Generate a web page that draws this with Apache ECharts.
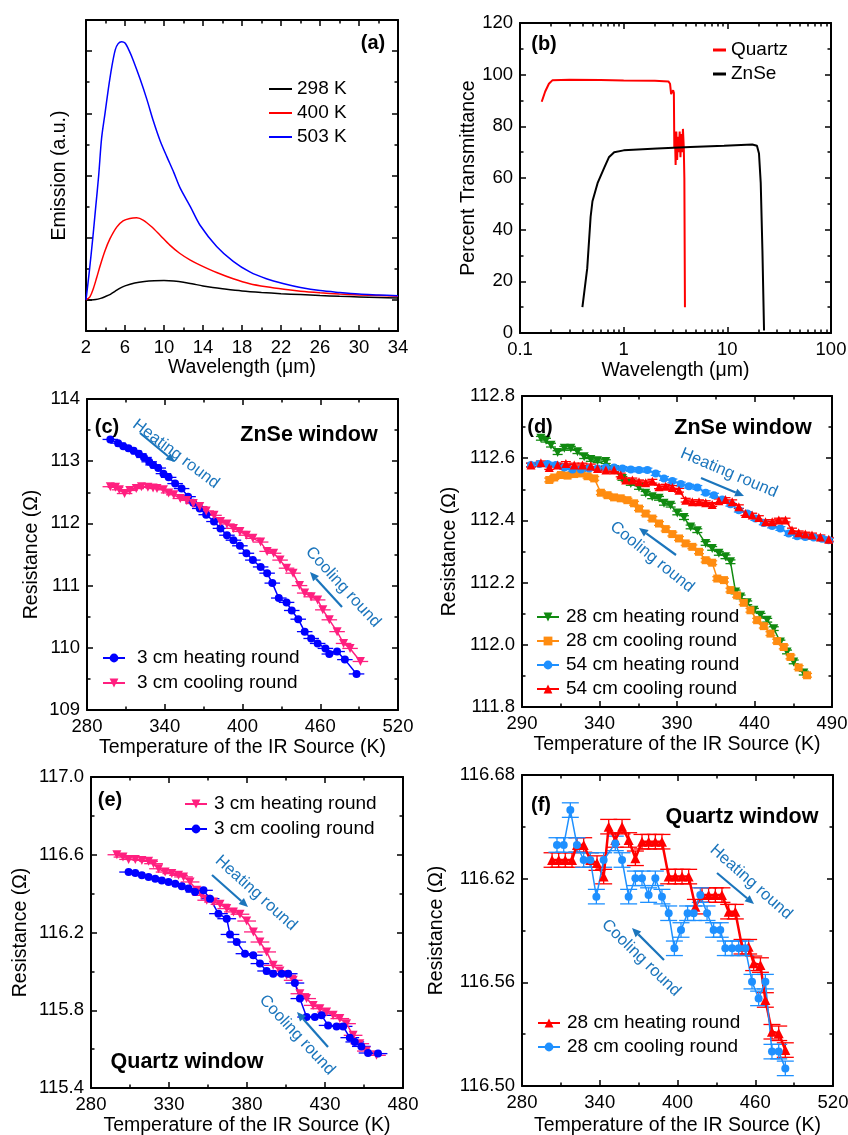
<!DOCTYPE html>
<html><head><meta charset="utf-8">
<script src="https://cdn.jsdelivr.net/npm/echarts@6/dist/echarts.min.js"></script>
<style>html,body{margin:0;padding:0;background:#fff}#c{width:848px;height:1135px}</style>
</head><body><div id="c"></div>
<script>
// ---------- (a) emission spectra [wavelength um, a.u.] ----------
const emission298 = [[2,0],[2.5,0],[3,0.005],[3.5,0.025],[4,0.055],[4.5,0.09],[5,0.14],[5.5,0.19],[6,0.225],[7,0.27],[8,0.295],[9,0.307],[10,0.31],[11,0.303],[12,0.285],[13,0.255],[14,0.225],[15,0.2],[16,0.18],[18,0.145],[20,0.12],[22,0.1],[24,0.085],[26,0.07],[28,0.058],[30,0.048],[32,0.04],[34,0.032]];
const emission400 = [[2,0],[2.4,0.05],[2.75,0.18],[3.1,0.36],[3.45,0.55],[3.95,0.79],[4.45,0.98],[5.15,1.17],[5.8,1.27],[6.5,1.31],[7.2,1.32],[7.9,1.28],[8.7,1.18],[9.6,1.04],[10.6,0.88],[11.6,0.75],[12.7,0.64],[13.7,0.56],[15.4,0.44],[17.1,0.34],[18.8,0.26],[20.5,0.21],[22.3,0.17],[24,0.14],[26,0.115],[28,0.095],[30,0.08],[32,0.07],[34,0.06]];
const emission503 = [[2,0],[2.35,0.47],[2.7,1.0],[3.0,1.5],[3.3,2.0],[3.6,2.6],[3.95,3.0],[4.3,3.4],[4.65,3.75],[5.0,4.02],[5.3,4.12],[5.65,4.15],[6.0,4.13],[6.45,4.0],[6.85,3.85],[7.55,3.55],[8.25,3.22],[8.9,2.88],[9.6,2.56],[10.3,2.3],[11,2.05],[11.65,1.8],[12.7,1.5],[13.7,1.2],[15.4,0.86],[17.1,0.62],[18.8,0.45],[20.5,0.34],[22.3,0.26],[24,0.2],[26,0.15],[28,0.12],[30,0.095],[32,0.08],[34,0.065]];
const aYTicks = [0,1,2,3,4];
const aYMinor = [0.5,1.5,2.5,3.5];
// ---------- (b) transmittance [wavelength um, %] ----------
const quartzT = [[0.162,89.5],[0.175,93.5],[0.19,96.5],[0.205,97.8],[0.3,98],[0.6,97.9],[1.0,97.7],[2.0,97.6],[2.7,97.4],[2.8,96.5],[2.87,92.5],[2.95,92],[3.0,94],[3.05,93],[3.08,72],[3.12,78],[3.17,65],[3.22,78],[3.28,67],[3.33,76],[3.4,70],[3.47,78],[3.53,68],[3.6,77],[3.67,70],[3.73,79],[3.8,72],[3.85,60],[3.9,10]];
const znseT = [[0.4,10],[0.445,25],[0.48,45],[0.5,51],[0.56,58],[0.65,64],[0.72,68],[0.81,70],[1.0,70.7],[2.1,71.4],[4.4,72],[9.3,72.5],[17.4,73],[19.3,72.5],[20.2,69.5],[21,58],[21.8,32],[22.6,1]];
const bLogMinor = [0.2,0.3,0.4,0.5,0.6,0.7,0.8,0.9,2,3,4,5,6,7,8,9,20,30,40,50,60,70,80,90];
// ---------- (c) ZnSe window, 3 cm [K, ohm] ----------
const cHeat3 = [[298,113.35],[304,113.29],[308,113.24],[312,113.21],[316,113.17],[320,113.12],[324,113.06],[328,112.99],[331,112.94],[335,112.89],[339,112.8],[343,112.74],[348,112.64],[353,112.56],[358,112.43],[362,112.33],[367,112.24],[372,112.14],[378,112.03],[383,111.92],[388,111.81],[393,111.73],[398,111.64],[403,111.52],[408,111.41],[414,111.3],[419,111.2],[423,111.04],[428,110.8],[434,110.73],[438,110.6],[443,110.46],[448,110.26],[453,110.15],[458,110.07],[464,109.99],[467,109.9],[473,109.94],[479,109.81],[488,109.58]];
const cCool3 = [[298,112.59],[302,112.58],[305,112.54],[309,112.48],[313,112.53],[318,112.56],[322,112.59],[327,112.58],[331,112.57],[334,112.56],[339,112.54],[343,112.49],[347,112.46],[352,112.4],[357,112.37],[362,112.32],[367,112.27],[372,112.2],[378,112.13],[383,112.03],[388,111.99],[393,111.92],[398,111.87],[403,111.81],[408,111.76],[414,111.7],[419,111.55],[424,111.52],[429,111.41],[434,111.28],[439,111.2],[444,111.0],[448,110.88],[453,110.82],[458,110.77],[462,110.61],[467,110.45],[473,110.26],[478,110.07],[483,109.99],[491,109.78]];
// ---------- (d) ZnSe window, 28/54 cm ----------
const dHeat28 = [[302.2,112.664],[305.5,112.658],[308.7,112.642],[313,112.618],[317.3,112.632],[321.5,112.632],[325.8,112.621],[330.1,112.605],[334.4,112.596],[338.7,112.592],[344,112.589],[349.4,112.562],[354.8,112.535],[360.2,112.519],[365.5,112.506],[369.8,112.487],[374,112.476],[378.4,112.471],[381.6,112.455],[385.9,112.449],[390.2,112.424],[394.5,112.409],[398.8,112.379],[403.1,112.367],[408.5,112.326],[412.7,112.31],[417,112.294],[421.3,112.283],[424.5,112.267],[427.8,112.17],[431,112.154],[435.3,112.135],[439.6,112.111],[443.9,112.095],[448.2,112.079],[452.4,112.052],[456.7,112.009],[461,111.977],[465.3,111.945],[471.8,111.909]];
const dCool28 = [[307.6,112.53],[310.8,112.538],[315.1,112.546],[319.4,112.544],[323.7,112.549],[328,112.551],[332.3,112.542],[336.6,112.535],[340.9,112.489],[345.2,112.481],[349.4,112.474],[353.7,112.471],[358,112.465],[362.3,112.455],[365.5,112.438],[369.8,112.422],[374.1,112.406],[378.4,112.39],[382.7,112.372],[387,112.356],[391.3,112.342],[395.6,112.326],[399.9,112.315],[404.2,112.299],[408.5,112.272],[412.7,112.264],[416,112.213],[420.3,112.208],[424.5,112.176],[428.8,112.159],[433.1,112.135],[437.4,112.111],[441.7,112.079],[446,112.06],[450.3,112.036],[454.6,112.012],[458.9,111.993],[463.2,111.961],[468.5,111.927],[473.9,111.902]];
const dHeat54 = [[295.8,112.578],[301.2,112.581],[306.5,112.581],[311.9,112.578],[317.3,112.57],[322.6,112.564],[328,112.564],[333.3,112.567],[338.7,112.567],[344.1,112.57],[349.4,112.57],[354.8,112.567],[360.2,112.564],[365.5,112.562],[370.9,112.562],[376.3,112.551],[381.6,112.535],[387,112.527],[392.4,112.517],[397.7,112.51],[403.1,112.506],[408.5,112.489],[413.8,112.481],[419.2,112.467],[424.5,112.452],[429.9,112.433],[435.3,112.422],[440.6,112.406],[446,112.392],[451.4,112.382],[456.7,112.374],[462.1,112.358],[467.5,112.349],[472.8,112.347],[478.2,112.345],[483.6,112.341],[487.9,112.336]];
const dCool54 = [[295.8,112.578],[302.2,112.585],[307.6,112.57],[313,112.578],[318.3,112.583],[323.7,112.578],[329,112.578],[334.4,112.575],[338.7,112.567],[344.1,112.562],[349.4,112.562],[353.7,112.546],[356.9,112.53],[361.2,112.53],[365.5,112.524],[369.8,112.521],[374.1,112.526],[378.4,112.508],[382.7,112.51],[387,112.506],[391.3,112.497],[395.6,112.465],[399.9,112.46],[404.2,112.46],[408.5,112.457],[412.7,112.451],[417,112.463],[421.3,112.467],[425.6,112.46],[429.9,112.444],[434.2,112.422],[438.5,112.417],[442.8,112.409],[447.1,112.396],[451.4,112.396],[455.7,112.401],[460,112.401],[464.2,112.369],[468.5,112.36],[472.8,112.356],[477.1,112.353],[482.5,112.347],[487.9,112.339]];
// ---------- (e) Quartz window, 3 cm ----------
const eHeat3 = [[296.6,116.6],[300.5,116.588],[304.1,116.576],[308.4,116.576],[312.6,116.571],[316.9,116.566],[320.1,116.554],[323.3,116.528],[327.5,116.511],[331.8,116.503],[336.1,116.494],[339.3,116.486],[343.5,116.46],[347.8,116.417],[351,116.391],[354.2,116.366],[358.5,116.357],[362.7,116.345],[367,116.323],[371.3,116.306],[375.5,116.294],[379.8,116.259],[384.1,116.203],[388.3,116.151],[392.6,116.1],[396.8,116.031],[401.1,116.002],[405.4,115.98],[409.6,115.954],[413.9,115.885],[418.2,115.86],[422.4,115.825],[426.7,115.808],[431,115.791],[435.2,115.774],[439.5,115.757],[443.8,115.731],[448,115.671],[452.3,115.628],[456.5,115.59],[463,115.568]];
const eCool3 = [[304.1,116.511],[308.4,116.506],[312.6,116.494],[316.9,116.486],[321.2,116.477],[325.4,116.468],[329.7,116.46],[334,116.451],[338.2,116.438],[342.5,116.426],[346.7,116.408],[352.1,116.417],[356.3,116.374],[361.7,116.297],[367,116.271],[369.1,116.19],[373.4,116.151],[378.7,116.091],[384,116.083],[388.3,116.04],[392.6,116.002],[396.8,115.988],[402.2,115.988],[406.4,115.988],[410.7,115.94],[413.9,115.86],[418.2,115.765],[423.5,115.765],[427.8,115.774],[432,115.722],[437.4,115.717],[441.6,115.717],[445.9,115.659],[449.1,115.637],[453.3,115.614],[457.6,115.58],[464,115.577]];
// ---------- (f) Quartz window, 28 cm ----------
const fHeat28 = [[303.2,116.6308],[308.3,116.6308],[313.4,116.6308],[318.6,116.6308],[322.4,116.6395],[327.6,116.6395],[332.7,116.6308],[337.9,116.629],[343,116.6212],[346.9,116.6501],[352,116.6424],[357.2,116.6501],[362.3,116.6424],[367.5,116.6318],[372.6,116.6414],[377.7,116.6414],[382.9,116.6414],[388,116.6414],[393.2,116.6212],[398.3,116.6212],[403.5,116.6212],[408.6,116.6212],[413.8,116.6038],[418.9,116.6105],[424,116.6105],[429.2,116.6105],[434.3,116.6105],[439.5,116.6009],[444.6,116.6009],[449.8,116.5806],[454.9,116.5806],[458.8,116.571],[464,116.57],[467.8,116.5498],[472.9,116.5314],[478.1,116.5305],[483.2,116.5208]];
const fCool28 = [[307,116.6395],[312.2,116.6395],[317.3,116.6597],[322.4,116.6395],[327.6,116.6308],[332.7,116.6308],[337.4,116.6096],[343,116.6308],[352,116.6404],[357.2,116.6308],[362.3,116.6096],[367.5,116.6202],[372.6,116.6202],[377.7,116.6105],[382.9,116.6202],[388,116.6096],[393.2,116.6],[397.6,116.5797],[402.7,116.5903],[407.8,116.6],[412.5,116.6],[417.6,116.6105],[422.8,116.6],[427.9,116.5903],[433,116.5903],[436.9,116.5797],[442.1,116.5797],[447.2,116.5797],[452.3,116.5797],[457.5,116.5604],[462.6,116.5507],[467.8,116.5604],[472.9,116.5199],[478.1,116.5199],[483.2,116.5102]];

const FONT = 'Liberation Sans';
const ANN = '#1B75BC';
const C = {blue:'#0000FF', pink:'#FF1F7F', green:'#108A10', orange:'#FF8C10', lblue:'#1E90FF', red:'#FF0000', black:'#000000'};

const grids = [
  {left:86, top:20, width:312, height:311},
  {left:520, top:23, width:311, height:310},
  {left:87, top:399, width:311, height:311},
  {left:522, top:396, width:310, height:311},
  {left:91, top:777, width:312, height:311},
  {left:522, top:775, width:311, height:311}
].map(g => Object.assign({outerBoundsMode:'none', containLabel:false}, g));

const xAxes = [], yAxes = [];
function mkAxis(kind, gi, cfg, main) {
  const ax = {
    gridIndex: gi, type: cfg.type || 'value', min: cfg.min, max: cfg.max,
    position: kind === 'x' ? (main ? 'bottom' : 'top') : (main ? 'left' : 'right'),
    splitLine: {show:false},
    axisLine: {show: cfg.noLine ? false : true, onZero:false, lineStyle:{color:'#000', width:2}},
    axisTick: {show:true, inside:true, length: cfg.tickLen || 6, lineStyle:{color:'#000', width:1.5}},
    minorTick: {show: cfg.minor !== false, splitNumber:2, length:3.5, lineStyle:{color:'#000', width:1.5}},
    axisLabel: {show: main && !cfg.noLabel, color:'#000', fontFamily:FONT, fontSize:18.5, margin:7},
    axisPointer: {show:false}
  };
  if (cfg.logBase) ax.logBase = cfg.logBase;
  if (cfg.interval) ax.interval = cfg.interval;
  if (cfg.fmt) ax.axisLabel.formatter = cfg.fmt;
  if (cfg.tickValues) ax.axisTick.customValues = cfg.tickValues;
  if (main && cfg.name) {
    ax.name = cfg.name; ax.nameLocation = 'middle'; ax.nameGap = cfg.nameGap;
    ax.nameTextStyle = {fontFamily:FONT, fontSize:19.5, color:'#000'};
  }
  (kind === 'x' ? xAxes : yAxes).push(ax);
  return (kind === 'x' ? xAxes : yAxes).length - 1;
}
function pair(kind, gi, cfg) {
  const i = mkAxis(kind, gi, cfg, true);
  mkAxis(kind, gi, cfg, false);
  return i;
}
const tempName = 'Temperature of the IR Source (K)';
const resName = 'Resistance (\u03A9)';
const f1 = v => (+v).toFixed(1), f2 = v => (+v).toFixed(2);

// (a)
const ax = pair('x', 0, {min:2, max:34, interval:4, name:'Wavelength (\u03BCm)', nameGap:27});
const ay = pair('y', 0, {min:-0.5, max:4.5, noLabel:true, minor:false, tickValues:aYTicks, name:'Emission (a.u.)', nameGap:16});
pair('y', 0, {min:-0.5, max:4.5, noLabel:true, minor:false, noLine:true, tickLen:3.5, tickValues:aYMinor});
// (b)
const bx = pair('x', 1, {type:'log', logBase:10, min:0.1, max:100, minor:false, fmt: v => (v < 1 ? String(+(+v).toFixed(1)) : String(Math.round(v))), name:'Wavelength (\u03BCm)', nameGap:28});
// minor log ticks on a plain value axis laid over log10 space
pair('x', 1, {min:-1, max:2, minor:false, noLabel:true, noLine:true, tickLen:3.5, tickValues:bLogMinor.map(v => Math.log10(v))});
const by = pair('y', 1, {min:0, max:120, interval:20, name:'Percent Transmittance', nameGap:41});
// (c)
const cx = pair('x', 2, {min:280, max:520, interval:60, name:tempName, nameGap:28});
const cy = pair('y', 2, {min:109, max:114, interval:1, name:resName, nameGap:45});
// (d)
const dx = pair('x', 3, {min:290, max:490, interval:50, name:tempName, nameGap:28});
const dy = pair('y', 3, {min:111.8, max:112.8, interval:0.2, fmt:f1, name:resName, nameGap:62});
// (e)
const ex = pair('x', 4, {min:280, max:480, interval:50, name:tempName, nameGap:28});
const ey = pair('y', 4, {min:115.4, max:117.0, interval:0.4, fmt:f1, name:resName, nameGap:60});
// (f)
const fx = pair('x', 5, {min:280, max:520, interval:60, name:tempName, nameGap:30});
const fy = pair('y', 5, {min:116.50, max:116.68, interval:0.06, fmt:f2, name:resName, nameGap:75});

function lineS(name, xi, yi, data, color, o) {
  o = o || {};
  return {type:'line', name:name, xAxisIndex:xi, yAxisIndex:yi, data:data, z:3,
    symbol: o.symbol || 'none', symbolSize: o.size || 8, symbolRotate: o.rot || 0, showSymbol: !!o.symbol,
    smooth: o.smooth || false, lineStyle:{color:color, width:o.lw || 1.5}, itemStyle:{color:color},
    animation:false, emphasis:{disabled:true}};
}
function errS(xi, yi, data, color, o) {
  return {type:'custom', xAxisIndex:xi, yAxisIndex:yi, data:data, silent:true, z:2, animation:false,
    encode:{x:0, y:1},
    renderItem: function(params, api) {
      const x = api.value(0), y = api.value(1), ch = [];
      const st = () => ({stroke:color, lineWidth:o.lw || 1.3});
      if (o.ex) {
        const a = api.coord([x - o.ex, y]), b = api.coord([x + o.ex, y]);
        ch.push({type:'line', shape:{x1:a[0], y1:a[1], x2:b[0], y2:b[1]}, style:st()});
      }
      if (o.ey) {
        const t = api.coord([x, y + o.ey]), b = api.coord([x, y - o.ey]), c = o.cap || 4;
        ch.push({type:'line', shape:{x1:t[0], y1:t[1], x2:b[0], y2:b[1]}, style:st()});
        ch.push({type:'line', shape:{x1:t[0]-c, y1:t[1], x2:t[0]+c, y2:t[1]}, style:st()});
        ch.push({type:'line', shape:{x1:b[0]-c, y1:b[1], x2:b[0]+c, y2:b[1]}, style:st()});
      }
      return {type:'group', children:ch};
    }};
}

const series = [
  lineS('a|298 K', ax, ay, emission298, C.black, {smooth:0.3}),
  lineS('a|400 K', ax, ay, emission400, C.red, {smooth:0.3}),
  lineS('a|503 K', ax, ay, emission503, C.blue, {smooth:0.3}),
  lineS('b|Quartz', bx, by, quartzT, C.red, {lw:2}),
  lineS('b|ZnSe', bx, by, znseT, C.black, {lw:2}),
  errS(cx, cy, cHeat3, C.blue, {ex:6}),
  errS(cx, cy, cCool3, C.pink, {ex:6}),
  lineS('c|3 cm heating round', cx, cy, cHeat3, C.blue, {symbol:'circle', size:8}),
  lineS('c|3 cm cooling round', cx, cy, cCool3, C.pink, {symbol:'triangle', rot:180, size:9}),
  errS(dx, dy, dHeat28, C.green, {ey:0.006, cap:5}),
  errS(dx, dy, dCool28, C.orange, {ey:0.006, cap:5}),
  errS(dx, dy, dHeat54, C.lblue, {ey:0.006, cap:5}),
  errS(dx, dy, dCool54, C.red, {ey:0.006, cap:5}),
  lineS('d|28 cm heating round', dx, dy, dHeat28, C.green, {symbol:'triangle', rot:180, size:9}),
  lineS('d|28 cm cooling round', dx, dy, dCool28, C.orange, {symbol:'rect', size:8}),
  lineS('d|54 cm heating round', dx, dy, dHeat54, C.lblue, {symbol:'circle', size:8}),
  lineS('d|54 cm cooling round', dx, dy, dCool54, C.red, {symbol:'triangle', size:9}),
  errS(ex, ey, eHeat3, C.pink, {ex:6}),
  errS(ex, ey, eCool3, C.blue, {ex:6}),
  lineS('e|3 cm heating round', ex, ey, eHeat3, C.pink, {symbol:'triangle', rot:180, size:9}),
  lineS('e|3 cm cooling round', ex, ey, eCool3, C.blue, {symbol:'circle', size:8}),
  errS(fx, fy, fHeat28, C.red, {ey:0.0042, cap:8.5}),
  errS(fx, fy, fCool28, C.lblue, {ey:0.0042, cap:8.5}),
  lineS('f|28 cm heating round', fx, fy, fHeat28, C.red, {symbol:'triangle', size:10, lw:2.5}),
  lineS('f|28 cm cooling round', fx, fy, fCool28, C.lblue, {symbol:'circle', size:8})
];

const strip = n => n.split('|')[1];
function leg(names, left, top, o) {
  o = o || {};
  const L = {data:names, left:left, top:top, orient:'vertical', itemWidth:o.w || 22, itemHeight:o.h || 11,
    itemGap:o.gap || 4, selectedMode:false, formatter:strip, padding:0,
    textStyle:{fontFamily:FONT, fontSize:19, color:'#000', lineHeight:20, padding:o.tp || [0,0,0,0]}};
  if (o.icon) L.icon = o.icon;
  return L;
}
const legends = [
  leg(['a|298 K','a|400 K','a|503 K'], 269, 79, {w:23, h:2, icon:'rect'}),
  leg(['b|Quartz','b|ZnSe'], 713, 40, {w:13, h:3, icon:'rect'}),
  leg(['c|3 cm heating round','c|3 cm cooling round'], 102, 648, {tp:[0,0,0,7], gap:5}),
  leg(['d|28 cm heating round','d|28 cm cooling round','d|54 cm heating round','d|54 cm cooling round'], 536, 607, {tp:[0,0,0,2]}),
  leg(['e|3 cm heating round','e|3 cm cooling round'], 184, 794, {tp:[0,0,0,2], gap:5}),
  leg(['f|28 cm heating round','f|28 cm cooling round'], 537, 1013, {tp:[0,0,0,2]})
];

function txt(x, y, text, size, bold) {
  return {type:'text', x:x, y:y, z:100, style:{text:text, fontFamily:FONT, fontSize:size, fontWeight:bold ? 'bold' : 'normal', fill:'#000', align:'center', verticalAlign:'middle'}};
}
function rot(x, y, deg, text) {
  return {type:'text', x:x, y:y, rotation:-deg * Math.PI / 180, z:100, style:{text:text, fontFamily:FONT, fontSize:16.5, fill:ANN, align:'center', verticalAlign:'middle'}};
}
function arrow(x1, y1, x2, y2) {
  const a = Math.atan2(y2 - y1, x2 - x1), L = 9, W = 4;
  const bx2 = x2 - L * Math.cos(a), by2 = y2 - L * Math.sin(a);
  const px = -Math.sin(a) * W, py = Math.cos(a) * W;
  return [
    {type:'line', z:100, shape:{x1:x1, y1:y1, x2:bx2, y2:by2}, style:{stroke:ANN, lineWidth:2.2}},
    {type:'polygon', z:100, shape:{points:[[x2, y2], [bx2 + px, by2 + py], [bx2 - px, by2 - py]]}, style:{fill:ANN}}
  ];
}
const graphics = [
  txt(373, 43, '(a)', 20, true),
  txt(544, 44, '(b)', 20, true),
  txt(107, 427, '(c)', 20, true),
  txt(309, 435, 'ZnSe window', 21.5, true),
  txt(540, 427, '(d)', 20, true),
  txt(743, 428, 'ZnSe window', 21.5, true),
  txt(110, 800, '(e)', 20, true),
  txt(187, 1062, 'Quartz window', 21.5, true),
  txt(541, 805, '(f)', 20, true),
  txt(742, 817, 'Quartz window', 21.5, true),
  rot(176, 454, 37, 'Heating round'),
  rot(343, 587, 47.5, 'Cooling round'),
  rot(729, 473, 23, 'Heating round'),
  rot(652, 557, 39, 'Cooling round'),
  rot(256, 893, 42, 'Heating round'),
  rot(297, 1035, 47, 'Cooling round'),
  rot(751, 882, 41.5, 'Heating round'),
  rot(641, 958, 44, 'Cooling round')
].concat(
  arrow(140, 433, 175, 462),
  arrow(342, 607, 310, 572),
  arrow(701, 478, 744, 496),
  arrow(676, 555, 639, 528),
  arrow(212, 875, 248, 907),
  arrow(328, 1047, 297, 1012),
  arrow(717, 873, 754, 904),
  arrow(664, 960, 632, 928)
);

const chart = echarts.init(document.getElementById('c'), null, {renderer:'canvas'});
chart.setOption({
  backgroundColor:'#ffffff',
  animation:false,
  grid:grids,
  xAxis:xAxes,
  yAxis:yAxes,
  legend:legends,
  series:series,
  graphic:{elements:graphics}
});
</script>
</body></html>
